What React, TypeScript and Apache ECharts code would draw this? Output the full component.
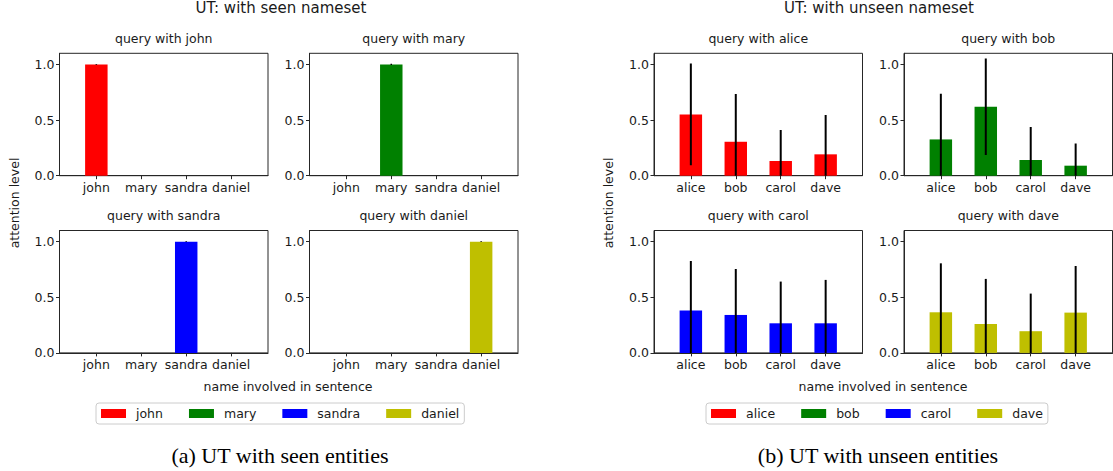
import React, { useEffect, useRef } from "react";
import * as echarts from "echarts";

const seenNames = ["john", "mary", "sandra", "daniel"];
const unseenNames = ["alice", "bob", "carol", "dave"];
const barColors = ["#ff0000", "#008000", "#0000ff", "#bfbf00"];
const yTicks = [0, 0.5, 1.0];

// means and std per query (row = query name, col = name involved)
const seenMeans = [
  [1.0, 0, 0, 0],
  [0, 1.0, 0, 0],
  [0, 0, 1.0, 0],
  [0, 0, 0, 1.0],
];
const seenStd = [
  [0.004, 0, 0, 0],
  [0, 0.005, 0, 0],
  [0, 0, 0.004, 0],
  [0, 0, 0, 0.004],
];
const unseenMeans = [
  [0.551, 0.305, 0.132, 0.192],
  [0.326, 0.62, 0.141, 0.09],
  [0.38, 0.341, 0.266, 0.266],
  [0.365, 0.26, 0.195, 0.362],
];
const unseenStd = [
  [0.457, 0.429, 0.278, 0.353],
  [0.411, 0.434, 0.296, 0.2],
  [0.446, 0.413, 0.375, 0.39],
  [0.44, 0.405, 0.338, 0.419],
];

const FONT = "DejaVu Sans";
const TXT = "#1a1a1a";

export default function App() {
  const ref = useRef<HTMLDivElement>(null);
  useEffect(() => {
    const chart = echarts.init(ref.current!, null, { renderer: "svg" });

    const colLeft = [59.5, 309.5, 654, 904];
    const rowTop = [53.3, 230.5];
    const gw = 208.5;
    const gh = 122.4;
    const xMin = -0.82;
    const xMax = 3.82;
    const unit = gw / (xMax - xMin);

    const grids: any[] = [];
    const xAxes: any[] = [];
    const yAxes: any[] = [];
    const series: any[] = [];
    const graphics: any[] = [];

    const panels: { names: string[]; means: number[]; std: number[]; qi: number; col: number; row: number; lw: number }[] = [];
    for (let g = 0; g < 2; g++) {
      const names = g === 0 ? seenNames : unseenNames;
      const M = g === 0 ? seenMeans : unseenMeans;
      const S = g === 0 ? seenStd : unseenStd;
      for (let q = 0; q < 4; q++) {
        panels.push({
          names,
          means: M[q],
          std: S[q],
          qi: q,
          col: g * 2 + (q % 2),
          row: Math.floor(q / 2),
          lw: g === 0 ? 1.5 : 2,
        });
      }
    }

    panels.forEach((p, k) => {
      const left = colLeft[p.col];
      const top = rowTop[p.row];
      grids.push({
        left,
        top,
        width: gw,
        height: gh,
        show: true,
        borderColor: "#262626",
        borderWidth: 1,
        backgroundColor: "transparent",
      });
      const names = p.names;
      xAxes.push({
        type: "value",
        gridIndex: k,
        min: xMin,
        max: xMax,
        splitLine: { show: false },
        axisLine: { show: true, onZero: false, lineStyle: { color: "#262626", width: 1 } },
        axisTick: { show: true, inside: false, length: 3.5, customValues: [0, 1, 2, 3], lineStyle: { color: "#262626" } },
        axisLabel: {
          customValues: [0, 1, 2, 3],
          formatter: (v: number) => names[Math.round(v)] ?? "",
          fontFamily: FONT,
          fontSize: 12.5,
          color: TXT,
          margin: 5,
        },
      });
      yAxes.push({
        type: "value",
        gridIndex: k,
        min: 0,
        max: 1.1,
        splitLine: { show: false },
        axisLine: { show: true, onZero: false, lineStyle: { color: "#262626", width: 1 } },
        axisTick: { show: true, inside: false, length: 3.5, customValues: yTicks, lineStyle: { color: "#262626" } },
        axisLabel: {
          customValues: yTicks,
          formatter: (v: number) => v.toFixed(1),
          fontFamily: FONT,
          fontSize: 12.5,
          color: TXT,
          margin: 5,
        },
      });
      series.push({
        type: "bar",
        name: names[p.qi],
        xAxisIndex: k,
        yAxisIndex: k,
        data: p.means.map((m, i) => [i, m]),
        barWidth: unit * 0.5,
        itemStyle: { color: barColors[p.qi] },
        z: 2,
      });
      series.push({
        type: "custom",
        xAxisIndex: k,
        yAxisIndex: k,
        clip: true,
        z: 5,
        data: p.means.map((m, i) => [i, m - p.std[i], m + p.std[i]]),
        encode: { x: 0, y: [1, 2] },
        renderItem: (params: any, api: any) => {
          const x = api.value(0);
          const a = api.coord([x, api.value(1)]);
          const b = api.coord([x, api.value(2)]);
          return {
            type: "line",
            shape: { x1: a[0], y1: a[1], x2: b[0], y2: b[1] },
            style: { stroke: "#000", lineWidth: p.lw },
          };
        },
      });
      graphics.push({
        type: "text",
        x: left + gw / 2,
        y: top - 15,
        style: {
          text: "query with " + names[p.qi],
          textAlign: "center",
          textVerticalAlign: "middle",
          fontFamily: FONT,
          fontSize: 12.5,
          fill: TXT,
        },
      });
    });

    const groupCenters = [281, 879];
    const suptitles = ["UT: with seen nameset", "UT: with unseen nameset"];
    const captions = ["(a) UT with seen entities", "(b) UT with unseen entities"];
    const ylabelX = [14, 608];
    const xlabelCenters = [288, 883];
    for (let g = 0; g < 2; g++) {
      graphics.push({
        type: "text",
        x: groupCenters[g],
        y: 8,
        style: { text: suptitles[g], textAlign: "center", textVerticalAlign: "middle", fontFamily: FONT, fontSize: 15, fill: TXT },
      });
      graphics.push({
        type: "text",
        x: xlabelCenters[g],
        y: 386.5,
        style: { text: "name involved in sentence", textAlign: "center", textVerticalAlign: "middle", fontFamily: FONT, fontSize: 12.5, fill: TXT },
      });
      graphics.push({
        type: "text",
        x: ylabelX[g],
        y: 203,
        rotation: Math.PI / 2,
        style: { text: "attention level", textAlign: "center", textVerticalAlign: "middle", fontFamily: FONT, fontSize: 12.5, fill: TXT },
      });
      graphics.push({
        type: "text",
        x: [280, 878][g],
        y: 455,
        style: { text: captions[g], textAlign: "center", textVerticalAlign: "middle", fontFamily: "Liberation Serif", fontSize: 22, fill: "#000" },
      });
    }

    const legendBase = {
      orient: "horizontal",
      icon: "rect",
      itemWidth: 25,
      itemHeight: 9,
      itemGap: 26,
      borderColor: "#cccccc",
      borderWidth: 1,
      borderRadius: 3,
      padding: [4, 5, 4, 5],
      backgroundColor: "#fff",
      selectedMode: false,
      textStyle: { fontFamily: FONT, fontSize: 12.5, color: TXT, padding: [0, 0, 0, 5] },
    };

    chart.setOption({
      animation: false,
      backgroundColor: "#fff",
      grid: grids,
      xAxis: xAxes,
      yAxis: yAxes,
      series,
      legend: [
        { ...legendBase, data: seenNames, left: 96, top: 403 },
        { ...legendBase, data: unseenNames, left: 706, top: 403 },
      ],
      graphic: graphics,
    });
    return () => chart.dispose();
  }, []);
  return (
    <div
      ref={ref}
      style={{ position: "fixed", left: 0, top: 0, width: 1113, height: 471, background: "#fff" }}
    />
  );
}
